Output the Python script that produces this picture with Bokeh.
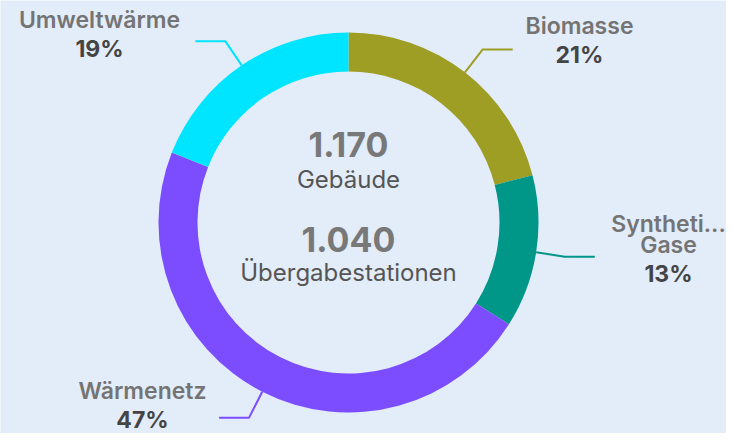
import math
from bokeh.plotting import figure
from bokeh.models import Range1d, ColumnDataSource
from bokeh.core.properties import value
from bokeh.embed import file_html
from bokeh.resources import INLINE

# ---- data ----
categories = ["Biomasse", "Synthetische Gase", "Wärmenetz", "Umweltwärme"]
label_lines = [["Biomasse"], ["Syntheti...", "Gase"], ["Wärmenetz"], ["Umweltwärme"]]
shares = [21, 13, 47, 19]
colors = ["#9e9d24", "#009688", "#7c4dff", "#00e5ff"]
center_numbers = ["1.170", "1.040"]
center_captions = ["Gebäude", "Übergabestationen"]

# ---- layout (screen pixels, y measured from top of picture) ----
W, H = 726, 433
CX, CY_SCREEN = 348, 222
R_OUT, R_IN = 190, 151
R_ELBOW = 219
HLEN = 30
# label block centres (x, y of first line) in screen px
label_pos = [(579, 25.5), (668, 223.5), (142, 390), (99, 19.5)]
LINE_STEP = 21
PCT_GAP = 29
FONT = value("Inter")
LABEL_FONT = value("'Inter SemiBold', 'Inter Medium', Inter")

def Y(ys):
    return 441 - ys

p = figure(width=W, height=H, output_backend="svg", toolbar_location=None,
           x_range=Range1d(0, W), y_range=Range1d(441 - H, 441),
           min_border=0, outline_line_color=None)
p.axis.visible = False
p.grid.visible = False
p.background_fill_color = "#e3ecf9"
p.border_fill_color = "#e3ecf9"

total = sum(shares)
starts, ends, mids = [], [], []
acc = 0
for s in shares:
    a0 = math.pi / 2 - 2 * math.pi * acc / total
    acc += s
    a1 = math.pi / 2 - 2 * math.pi * acc / total
    starts.append(a0)
    ends.append(a1)
    mids.append((a0 + a1) / 2)

cy = Y(CY_SCREEN)
src = ColumnDataSource(dict(start=starts, end=ends, color=colors))
p.annular_wedge(x=CX, y=cy, inner_radius=R_IN, outer_radius=R_OUT,
                start_angle="start", end_angle="end", direction="clock",
                fill_color="color", line_color=None, source=src)

# leader lines
for m, c in zip(mids, colors):
    x0, y0 = CX + R_OUT * math.cos(m), cy + R_OUT * math.sin(m)
    x1, y1 = CX + R_ELBOW * math.cos(m), cy + R_ELBOW * math.sin(m)
    x2 = x1 + (HLEN if math.cos(m) > 0 else -HLEN)
    p.line([x0, x1, x2], [y0, y1, y1], line_color=c, line_width=2)

# labels
for lines, s, (lx, ly) in zip(label_lines, shares, label_pos):
    y = ly
    for ln in lines:
        p.text(x=[lx], y=[Y(y)], text=[ln], text_font=LABEL_FONT,
               text_font_size="23px", text_color="#747474",
               text_align="center", text_baseline="middle")
        y += LINE_STEP
    y += PCT_GAP - LINE_STEP
    p.text(x=[lx], y=[Y(y)], text=[f"{s}%"], text_font=FONT,
           text_font_size="23px", text_font_style="bold", text_color="#444444",
           text_align="center", text_baseline="middle")

# centre texts
num_y = [144, 238.5]
cap_y = [178.5, 272]
for n, c, ny, cyy in zip(center_numbers, center_captions, num_y, cap_y):
    p.text(x=[CX], y=[Y(ny)], text=[n], text_font=FONT,
           text_font_size="34px", text_font_style="bold", text_color="#787878",
           text_align="center", text_baseline="middle")
    p.text(x=[CX], y=[Y(cyy)], text=[c], text_font=FONT,
           text_font_size="24px", text_color="#555555",
           text_align="center", text_baseline="middle")

open("out.html", "w").write(file_html(p, INLINE))
